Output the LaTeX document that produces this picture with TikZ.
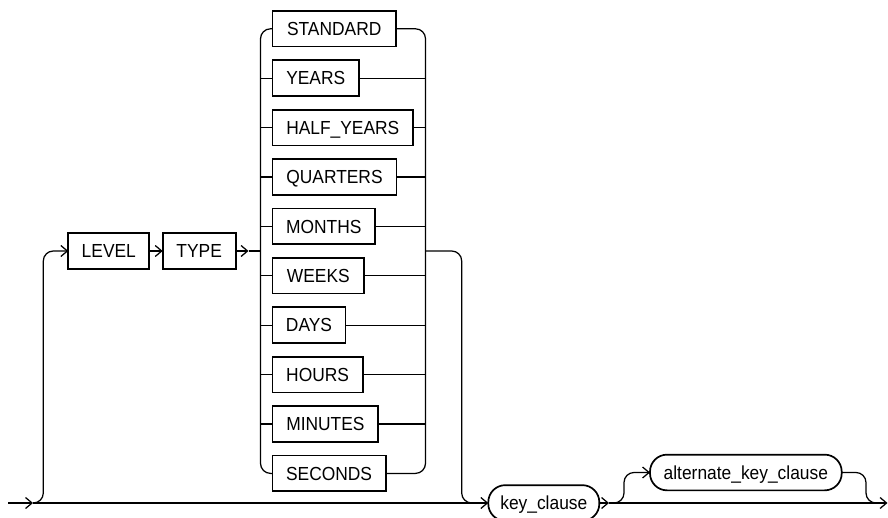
\documentclass[tikz,border=0pt]{standalone}
\usepackage{fontspec}
\setmainfont{Liberation Sans}[FakeStretch=0.92]
\usetikzlibrary{arrows.meta}
\tikzset{
  kw/.style={draw, line width=1.7pt, inner sep=0pt, outer sep=0pt, minimum height=35.7pt,
    text height=13.5pt, text depth=0pt, font=\fontsize{18.9}{21}\selectfont, anchor=west},
  term/.style={kw, rounded corners=17pt},
  conn/.style={line width=1.25pt},
  tip/.style={-{Straight Barb[length=6.5pt,width=11pt]}}
}
\begin{document}
\begin{tikzpicture}[x=1pt,y=-1pt]
\useasboundingbox (0,0) rectangle (888,518);
\clip (0,0) rectangle (888,518);
% keyword boxes
\node[kw, minimum width=81pt] (level) at (68.3,251) {LEVEL};
\node[kw, minimum width=73pt] (type) at (162.7,251) {TYPE};
\node[kw, minimum width=123.4pt] (std) at (272.5,28.8) {STANDARD};
\node[kw, minimum width=86.5pt] (yrs) at (272.5,78.2) {YEARS};
\node[kw, minimum width=140.6pt] (half) at (272.5,127.6) {HALF\_YEARS};
\node[kw, minimum width=124pt] (qtr) at (272.5,177.0) {QUARTERS};
\node[kw, minimum width=102.6pt] (mon) at (272.5,226.4) {MONTHS};
\node[kw, minimum width=91.6pt] (wks) at (272.5,275.8) {WEEKS};
\node[kw, minimum width=73pt] (days) at (272.5,325.2) {DAYS};
\node[kw, minimum width=90.2pt] (hrs) at (272.5,374.6) {HOURS};
\node[kw, minimum width=105.8pt] (mins) at (272.5,424.0) {MINUTES};
\node[kw, minimum width=113.2pt] (secs) at (272.5,473.4) {SECONDS};
\node[term, minimum width=111pt] (key) at (488.3,503) {key\_clause};
\node[term, minimum width=191.7pt] (alt) at (650,472.5) {alternate\_key\_clause};
% helper coordinates
\coordinate (start) at (8,503);
\coordinate (sp1) at (33,503);
\coordinate (lv) at (43.3,251);
\coordinate (tarr) at (248.5,251);
\coordinate (rl) at (260.5,251);
\coordinate (rr) at (425.5,251);
\coordinate (exitb) at (461.7,503);
\coordinate (jn) at (476,503);
\coordinate (a2) at (609,503);
\coordinate (sp2) at (613,503);
\coordinate (altc) at (624,472.5);
\coordinate (rc) at (866,503);
\coordinate (jn2) at (878,503);
\coordinate (end) at (887.5,503);
% main line
\draw[conn,tip] (start) -- (sp1);
\draw[conn,tip] (sp1) -- (key.west);
% level branch
\draw[conn,tip,rounded corners=10pt] (sp1) -| (lv) -- (level.west);
\draw[conn,tip] (level.east) -- (type.west);
\draw[conn,tip] (type.east) -- (tarr);
\draw[conn] (tarr) -- (rl);
% choice rails
\draw[conn,rounded corners=10pt] (std.west) -| (rl) |- (secs.west);
\draw[conn,rounded corners=10pt] (std.east) -| (rr) |- (secs.east);
\foreach \n in {yrs,half,qtr,mon,wks,days,hrs,mins}{
  \draw[conn] (\n.west -| rl) -- (\n.west);
  \draw[conn] (\n.east) -- (\n.east -| rr);
}
% exit to key_clause
\draw[conn,rounded corners=10pt] (rr) -| (exitb) -- (jn);
% after key_clause
\draw[conn,tip] (key.east) -- (a2);
\draw[conn,tip] (a2) -- (end);
\draw[conn,tip,rounded corners=10pt] (sp2) -| (altc) -- (alt.west);
\draw[conn,rounded corners=10pt] (alt.east) -| (rc) -- (jn2);
\end{tikzpicture}
\end{document}
